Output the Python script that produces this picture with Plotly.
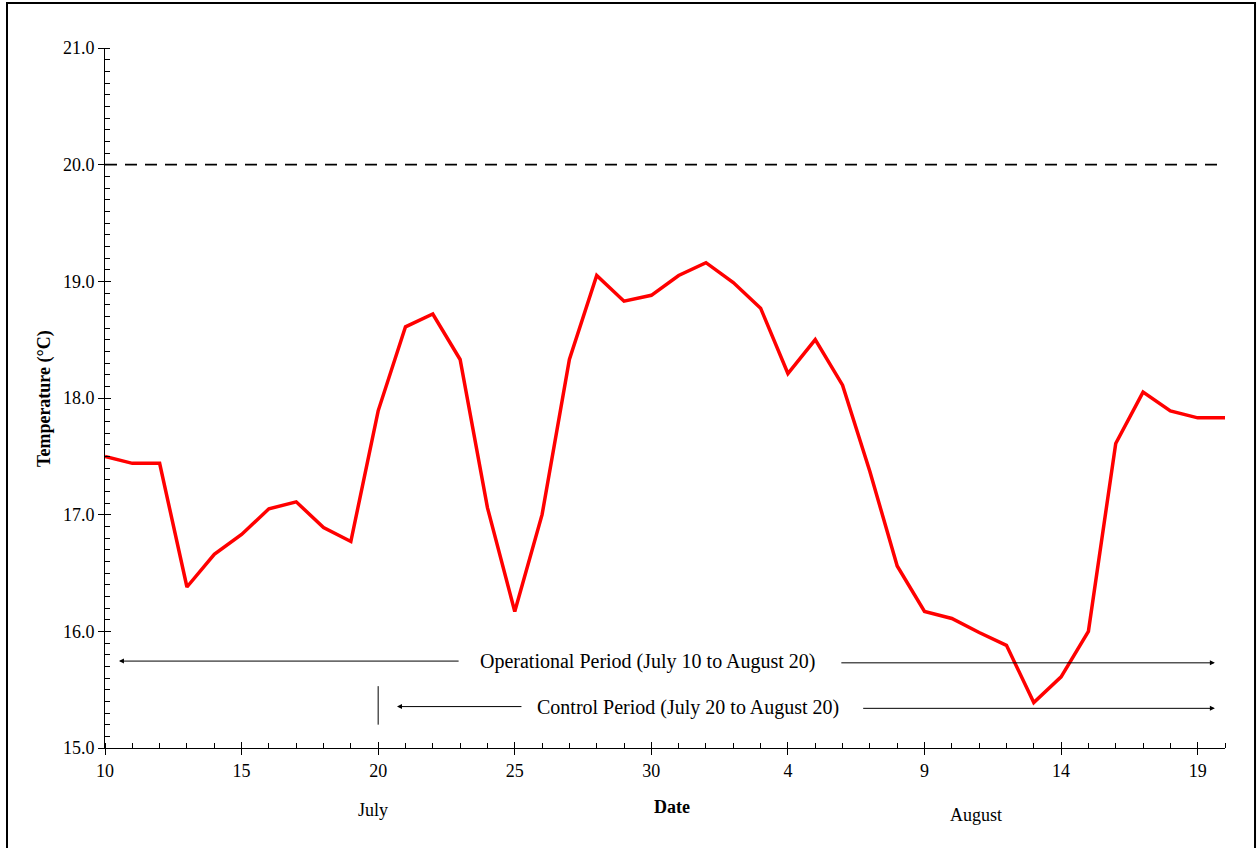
import plotly.graph_objects as go

# ---- data ----
day_index = list(range(42))  # July 10 (0) ... August 20 (41)
temperature = [17.50, 17.44, 17.44, 16.38, 16.66, 16.83, 17.05, 17.11, 16.89, 16.77,
               17.89, 18.61, 18.72, 18.33, 17.06, 16.17, 17.00, 18.33, 19.05, 18.83,
               18.88, 19.05, 19.16, 18.99, 18.77, 18.21, 18.50, 18.11, 17.37, 16.56,
               16.17, 16.11, 15.99, 15.88, 15.39, 15.61, 16.00, 17.61, 18.05, 17.89,
               17.83, 17.83]
threshold = 20.0
tick_positions = [0, 5, 10, 15, 20, 25, 30, 35, 40]
tick_labels = ["10", "15", "20", "25", "30", "4", "9", "14", "19"]
month_labels = ["July", "August"]
month_pos = [9.8, 31.9]

FONT = "Liberation Serif, Times New Roman, serif"

fig = go.Figure()

fig.add_trace(go.Scatter(x=[day_index[0], day_index[-1]], y=[threshold, threshold],
                         mode="lines", line=dict(color="black", width=1.8, dash="12px,8px"),
                         showlegend=False, hoverinfo="skip"))
fig.add_trace(go.Scatter(x=day_index, y=temperature, mode="lines",
                         line=dict(color="#ff0000", width=3.5), showlegend=False))

# overlay axes to draw inside halves of major ticks
fig.add_trace(go.Scatter(x=[0], y=[15], xaxis="x2", yaxis="y2", mode="markers",
                         marker=dict(opacity=0), showlegend=False, hoverinfo="skip"))

fig.update_layout(
    width=1257, height=848,
    margin=dict(l=105, r=32, t=48, b=100),
    paper_bgcolor="white", plot_bgcolor="white",
    font=dict(family=FONT, color="black", size=18),
    xaxis=dict(range=[0, 41], tickvals=tick_positions, ticktext=tick_labels,
               showgrid=False, zeroline=False, showline=True, linecolor="black", linewidth=1,
               ticks="outside", ticklen=6, tickcolor="black", tickwidth=1,
               minor=dict(dtick=1, ticks="inside", ticklen=5, tickcolor="black", tickwidth=1),
               tickfont=dict(family=FONT, size=18)),
    yaxis=dict(range=[15, 21], dtick=1, tickformat=".1f",
               showgrid=False, zeroline=False, showline=True, linecolor="black", linewidth=1,
               ticks="outside", ticklen=6, tickcolor="black", tickwidth=1,
               minor=dict(dtick=0.1, ticks="inside", ticklen=5, tickcolor="black", tickwidth=1),
               tickfont=dict(family=FONT, size=18)),
    xaxis2=dict(range=[0, 41], overlaying="x", tickvals=tick_positions, showticklabels=False,
                ticks="inside", ticklen=6, tickcolor="black", showgrid=False, zeroline=False,
                showline=False, anchor="y2", side="bottom"),
    yaxis2=dict(range=[15, 21], overlaying="y", dtick=1, showticklabels=False,
                ticks="inside", ticklen=6, tickcolor="black", showgrid=False, zeroline=False,
                showline=False, anchor="x2", side="left"),
)

# period arrows
arrows = [
    # (tip_x, tail_x, y)
    (0.51, 13.0, 15.745),
    (40.63, 26.9, 15.73),
    (10.69, 15.3, 15.355),
    (40.63, 27.7, 15.34),
]
for tip_x, tail_x, yy in arrows:
    fig.add_annotation(x=tip_x, y=yy, ax=tail_x, ay=yy, xref="x", yref="y", axref="x", ayref="y",
                       showarrow=True, arrowhead=2, arrowsize=1, arrowwidth=1, arrowcolor="black",
                       text="")

fig.add_annotation(x=19.88, y=15.745, xref="x", yref="y", showarrow=False,
                   text="Operational Period (July 10 to August 20)",
                   font=dict(family=FONT, size=20))
fig.add_annotation(x=21.34, y=15.35, xref="x", yref="y", showarrow=False,
                   text="Control Period (July 20 to August 20)",
                   font=dict(family=FONT, size=20))

# period markers
fig.add_shape(type="line", x0=10, x1=10, y0=15.2, y1=15.53, xref="x", yref="y",
              line=dict(color="black", width=1))
fig.add_shape(type="line", x0=41.15, x1=41.15, y0=15.17, y1=16.0, xref="x", yref="y",
              line=dict(color="black", width=1.5))

# month labels
for lab, pos, yy in zip(month_labels, month_pos, [-0.089, -0.096]):
    fig.add_annotation(x=pos, y=yy, xref="x", yref="paper", showarrow=False, text=lab,
                       xanchor="center", yanchor="middle",
                       font=dict(family=FONT, size=18))

# axis titles
fig.add_annotation(x=0.506, y=-0.084, xref="paper", yref="paper", showarrow=False,
                   xanchor="center", yanchor="middle",
                   text="<b>Date</b>", font=dict(family=FONT, size=18))
fig.add_annotation(x=-0.0545, y=0.5, xref="paper", yref="paper", showarrow=False, textangle=-90,
                   xanchor="center", yanchor="middle",
                   text="<b>Temperature (°C)</b>", font=dict(family=FONT, size=18))

# outer frame
fig.add_shape(type="rect", xref="paper", yref="paper", x0=-0.0875, x1=1.0268, y0=-0.15, y1=1.0643,
              line=dict(color="black", width=2), fillcolor="rgba(0,0,0,0)", layer="below")

fig.write_html("out.html", config={"displayModeBar": False},
               post_script="document.body.style.margin='0';document.body.style.overflow='hidden';")
